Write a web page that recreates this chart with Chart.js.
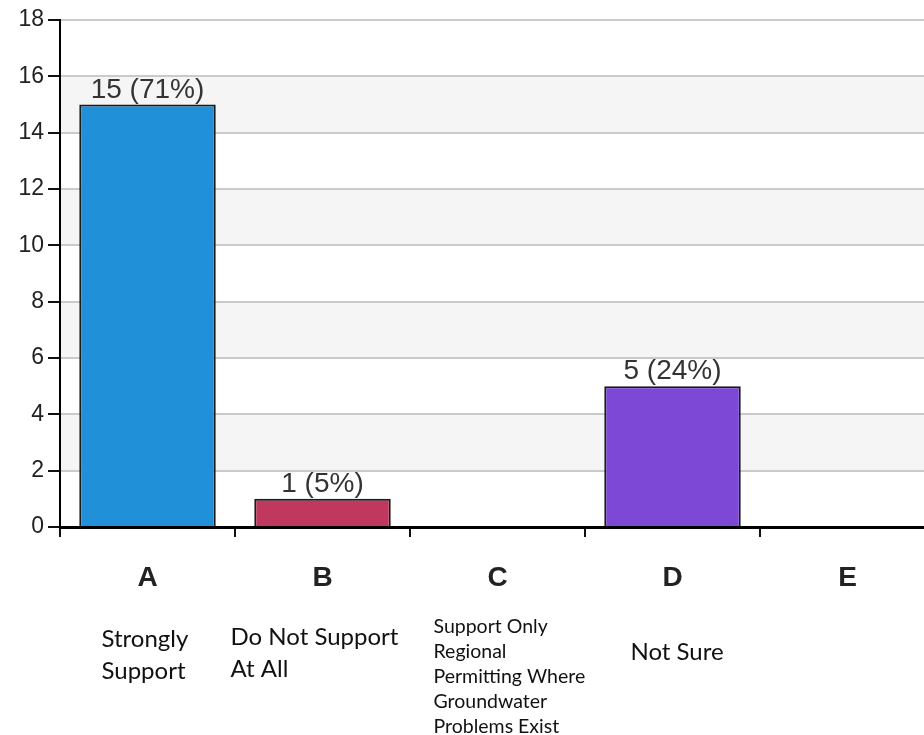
<!DOCTYPE html>
<html lang="en">
<head>
  <meta charset="UTF-8" />
  <title>Survey results</title>
  <script src="https://cdn.jsdelivr.net/npm/chart.js@4.4.1/dist/chart.umd.min.js"></script>
  <style>
    html,body { margin:0; padding:0; background:#fff; overflow:hidden; }
    #wrap     { width:950px; height:735px; }
  </style>
</head>
<body>
  <div id="wrap"><canvas id="chart" width="950" height="735"></canvas></div>

  <script>
    /* ---- data ---- */
    const categories   = ["A", "B", "C", "D", "E"];
    const counts       = [15, 1, 0, 5, 0];
    const barColors    = ["#2090d8", "#c0385e", "#7d48d5", "#7d48d5", "#2090d8"];
    const descriptions = [
      ["Strongly", "Support"],
      ["Do Not Support", "At All"],
      ["Support Only", "Regional", "Permitting Where", "Groundwater", "Problems Exist"],
      ["Not Sure"],
      []
    ];
    const yTicks = [0, 2, 4, 6, 8, 10, 12, 14, 16, 18];

    const total = counts.reduce((a, b) => a + b, 0);

    /* text placement for the answer descriptions (offset from category centre / axis) */
    const descStyle = [
      { dx:-46, dy:120, lh:32, size:24 },
      { dx:-92, dy:118, lh:32, size:24 },
      { dx:-64, dy:106, lh:25, size:19.5 },
      { dx:-42, dy:133, lh:32, size:24 },
      { dx:0,   dy:120, lh:32, size:24 }
    ];

    /* alternating grey bands behind the bars */
    const bandsPlugin = {
      id: "bands",
      beforeDraw(chart) {
        const { ctx, chartArea: a, scales: { y } } = chart;
        ctx.save();
        ctx.fillStyle = "#f5f5f5";
        for (let i = 0; i < yTicks.length - 1; i++) {
          if (i % 2 === 1) {
            const top = y.getPixelForValue(yTicks[i + 1]);
            const bot = y.getPixelForValue(yTicks[i]);
            ctx.fillRect(a.left, top, a.right - a.left, bot - top);
          }
        }
        ctx.restore();
      }
    };

    /* "15 (71%)" labels on top of the bars */
    const valueLabels = {
      id: "valueLabels",
      afterDatasetsDraw(chart) {
        const { ctx } = chart;
        const meta = chart.getDatasetMeta(0);
        ctx.save();
        ctx.font = "28px 'Liberation Sans', Arial, sans-serif";
        ctx.fillStyle = "#333";
        ctx.textAlign = "center";
        ctx.textBaseline = "alphabetic";
        meta.data.forEach((bar, i) => {
          const v = counts[i];
          if (!v) return;
          const pct = Math.round(v / total * 100);
          ctx.fillText(v + " (" + pct + "%)", bar.x, bar.y - 7);
        });
        ctx.restore();
      }
    };

    /* long answer texts under the letters */
    const descPlugin = {
      id: "desc",
      afterDraw(chart) {
        const { ctx, chartArea: a, scales: { x } } = chart;
        ctx.save();
        ctx.fillStyle = "#111";
        ctx.textAlign = "left";
        ctx.textBaseline = "alphabetic";
        descriptions.forEach((lines, i) => {
          const s = descStyle[i];
          ctx.font = s.size + "px Lato, 'Open Sans', sans-serif";
          const x0 = x.getPixelForValue(i) + s.dx;
          lines.forEach((t, j) => ctx.fillText(t, x0, a.bottom + s.dy + j * s.lh));
        });
        ctx.restore();
      }
    };

    new Chart(document.getElementById("chart"), {
      type: "bar",
      data: {
        labels: categories,
        datasets: [{
          data: counts,
          backgroundColor: barColors,
          borderColor: "#1a1a1a",
          borderWidth: 2,
          categoryPercentage: 1,
          barPercentage: 0.78
        }]
      },
      options: {
        responsive: false,
        animation: false,
        layout: { padding: { left: 0, top: 20, right: 15, bottom: 0 } },
        plugins: { legend: { display: false }, tooltip: { enabled: false } },
        scales: {
          x: {
            grid: { drawOnChartArea: false, drawTicks: true, tickLength: 10,
                    tickColor: "#111", lineWidth: 2, offset: true },
            border: { color: "#000", width: 3 },
            ticks: { color: "#222", padding: 24,
                     font: { family: "'Liberation Sans', Arial, sans-serif", size: 28, weight: "bold" } },
            afterFit(scale) { scale.height = 208; }
          },
          y: {
            min: 0, max: 18,
            ticks: { stepSize: 2, color: "#222", padding: 4,
                     font: { family: "'Liberation Sans', Arial, sans-serif", size: 23 } },
            grid: { color: "#cacaca", lineWidth: 2, tickLength: 12, tickColor: "#111" },
            border: { color: "#000", width: 2 },
            afterFit(scale) { scale.width = 60; }
          }
        }
      },
      plugins: [bandsPlugin, valueLabels, descPlugin]
    });
  </script>
</body>
</html>
